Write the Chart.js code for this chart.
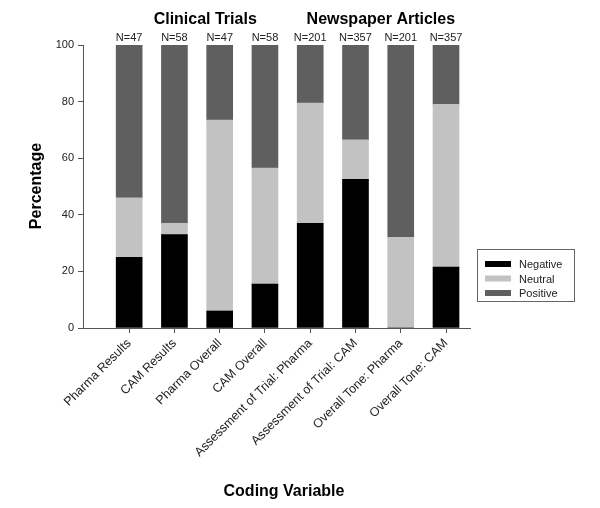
<!DOCTYPE html>
<html>
<head>
<meta charset="utf-8">
<script src="https://cdn.jsdelivr.net/npm/chart.js@4.4.1/dist/chart.umd.min.js"></script>
<style>
  html, body { margin: 0; padding: 0; background: #fff; }
  #wrap { width: 600px; height: 508px; }
</style>
</head>
<body>
<div id="wrap"><canvas id="bar-chart" width="600" height="508"></canvas></div>
<script>
// values (percent)
const categories = ['Pharma Results', 'CAM Results', 'Pharma Overall', 'CAM Overall',
    'Assessment of Trial: Pharma', 'Assessment of Trial: CAM', 'Overall Tone: Pharma', 'Overall Tone: CAM'];
const sampleSizes = ['N=47', 'N=58', 'N=47', 'N=58', 'N=201', 'N=357', 'N=201', 'N=357'];
const negative = [25, 33, 6, 15.5, 37, 52.5, 0, 21.5];
const neutral = [21, 4, 67.5, 41, 42.5, 14, 32, 57.5];
const positive = [54, 63, 26.5, 43.5, 20.5, 33.5, 68, 21];
const yTicks = [0, 20, 40, 60, 80, 100];
const groupTitles = ['Clinical Trials', 'Newspaper Articles'];

const FONT = '"Liberation Sans", Arial, sans-serif';
const AXIS = '#555';

function toPoints(vals) {
    return vals.map(function(v, i) { return { x: i, y: v }; });
}

// titles, N labels, axis titles and the boxed legend
const extras = {
    id: 'extras',
    afterDraw: function(chart) {
        const ctx = chart.ctx;
        const xs = chart.scales.x;
        ctx.save();
        ctx.fillStyle = '#000';
        ctx.textAlign = 'center';
        ctx.textBaseline = 'middle';

        ctx.font = 'bold 16px ' + FONT;
        ctx.fillText(groupTitles[0], xs.getPixelForValue(1.68), 20);
        ctx.fillText(groupTitles[1], xs.getPixelForValue(5.56), 20);

        ctx.font = '11px ' + FONT;
        ctx.fillStyle = '#222';
        sampleSizes.forEach(function(n, i) {
            ctx.fillText(n, xs.getPixelForValue(i), 38);
        });

        ctx.fillStyle = '#000';
        ctx.font = 'bold 16px ' + FONT;
        ctx.fillText('Coding Variable', 284, 492);
        ctx.save();
        ctx.translate(37, 186);
        ctx.rotate(-Math.PI / 2);
        ctx.fillText('Percentage', 0, 0);
        ctx.restore();

        // legend
        ctx.strokeStyle = '#666';
        ctx.lineWidth = 1;
        ctx.strokeRect(477.5, 249.5, 97, 52);
        ctx.font = '11px ' + FONT;
        ctx.textAlign = 'left';
        chart.data.datasets.forEach(function(ds, i) {
            const y = 264 + i * 14.5;
            ctx.fillStyle = ds.backgroundColor;
            ctx.fillRect(485, y - 3, 26, 6);
            ctx.fillStyle = '#222';
            ctx.fillText(ds.label, 519, y + 1);
        });
        ctx.restore();
    }
};

const ctx = document.getElementById('bar-chart').getContext('2d');
new Chart(ctx, {
    type: 'bar',
    data: {
        datasets: [
            { label: 'Negative', data: toPoints(negative), backgroundColor: '#000000' },
            { label: 'Neutral', data: toPoints(neutral), backgroundColor: '#c2c2c2' },
            { label: 'Positive', data: toPoints(positive), backgroundColor: '#5f5f5f' }
        ]
    },
    options: {
        responsive: false,
        animation: false,
        barThickness: 26,
        layout: { padding: { left: 0, top: 45, right: 130, bottom: 0 } },
        plugins: {
            legend: { display: false },
            tooltip: { enabled: false }
        },
        scales: {
            x: {
                type: 'linear',
                stacked: true,
                offset: false,
                min: -1.02,
                max: 7.53,
                afterFit: function(scale) { scale.height = 180; },
                afterBuildTicks: function(scale) {
                    scale.ticks = categories.map(function(c, i) { return { value: i }; });
                },
                grid: { offset: false, drawOnChartArea: false, drawTicks: true, tickLength: 5, color: AXIS },
                border: { color: AXIS },
                ticks: {
                    autoSkip: false,
                    minRotation: 45,
                    maxRotation: 45,
                    padding: 3,
                    color: '#222',
                    font: { family: FONT, size: 12.5 },
                    callback: function(v) { return categories[v]; }
                }
            },
            y: {
                stacked: true,
                min: 0,
                max: 100,
                afterFit: function(scale) { scale.width = 83; },
                afterBuildTicks: function(scale) {
                    scale.ticks = yTicks.map(function(v) { return { value: v }; });
                },
                grid: { drawOnChartArea: false, drawTicks: true, tickLength: 5, color: AXIS },
                border: { color: AXIS },
                ticks: {
                    padding: 4,
                    color: '#222',
                    font: { family: FONT, size: 11 }
                }
            }
        }
    },
    plugins: [extras]
});
</script>
</body>
</html>
